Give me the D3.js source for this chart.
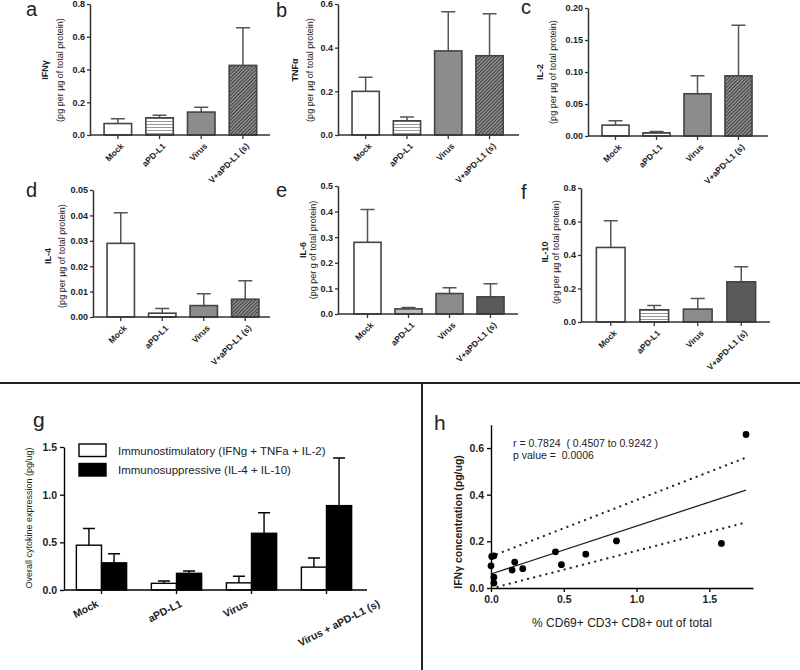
<!DOCTYPE html>
<html>
<head>
	<title></title>
	<script src="https://d3js.org/d3.v7.min.js" charset="utf-8"></script>
	<style type="text/css">
		body { margin: 0; background-color: #fff; }
		svg text { font-family: 'Liberation Sans', Arial, sans-serif; fill: #222; }
		.tick text { font-weight: bold; }
	</style>
</head>
<body>
	<div id="chart"></div>

	<script type="text/javascript">

		// ---- data ----
		var groups = ['Mock', 'aPD-L1', 'Virus', 'V+aPD-L1 (s)'];

		var ifngMean  = [0.07, 0.105, 0.14, 0.425];
		var ifngUpper = [0.10, 0.12, 0.17, 0.655];
		var tnfaMean  = [0.20, 0.065, 0.385, 0.363];
		var tnfaUpper = [0.265, 0.082, 0.565, 0.555];
		var il2Mean   = [0.017, 0.005, 0.066, 0.094];
		var il2Upper  = [0.024, 0.007, 0.094, 0.173];
		var il4Mean   = [0.029, 0.0015, 0.0045, 0.007];
		var il4Upper  = [0.041, 0.0033, 0.0092, 0.0143];
		var il6Mean   = [0.28, 0.02, 0.08, 0.067];
		var il6Upper  = [0.408, 0.025, 0.103, 0.118];
		var il10Mean  = [0.445, 0.073, 0.077, 0.24];
		var il10Upper = [0.605, 0.098, 0.14, 0.33];

		var overallGroups = ['Mock', 'aPD-L1', 'Virus', 'Virus + aPD-L1 (s)'];
		var overallSeries = ['Immunostimulatory (IFNg + TNFa + IL-2)', 'Immunosuppressive (IL-4 + IL-10)'];
		var stimMean  = [0.47, 0.07, 0.075, 0.24];
		var stimUpper = [0.645, 0.095, 0.145, 0.335];
		var suppMean  = [0.285, 0.175, 0.595, 0.885];
		var suppUpper = [0.38, 0.20, 0.81, 1.385];

		var cd69 = [0.0, 0.005, 0.02, 0.02, 0.02, 0.145, 0.163, 0.218, 0.443, 0.484, 0.651, 0.862, 1.583, 1.752];
		var ifngConc = [0.095, 0.135, 0.138, 0.046, 0.021, 0.077, 0.111, 0.083, 0.155, 0.10, 0.145, 0.202, 0.191, 0.658];
		var fitLine  = [[0.0, 0.06], [1.752, 0.42]];
		var ciUpper  = [[0.0, 0.135], [1.752, 0.559]];
		var ciLower  = [[0.045, 0.005], [1.752, 0.281]];

		var svg = d3.select('#chart')
			.append('svg')
			.attr('width', 800)
			.attr('height', 670);

		// ---- patterns ----
		var defs = svg.append('defs');
		var stripes = defs.append('pattern')
			.attr('id', 'stripes')
			.attr('patternUnits', 'userSpaceOnUse')
			.attr('width', 6).attr('height', 3);
		stripes.append('rect').attr('width', 6).attr('height', 3).attr('fill', '#fff');
		stripes.append('line').attr('x1', 0).attr('x2', 6).attr('y1', 1.5).attr('y2', 1.5)
			.attr('stroke', '#999').attr('stroke-width', 1);

		var hatch = defs.append('pattern')
			.attr('id', 'hatch')
			.attr('patternUnits', 'userSpaceOnUse')
			.attr('width', 2.5).attr('height', 2.5)
			.attr('patternTransform', 'rotate(45)');
		hatch.append('rect').attr('width', 2.5).attr('height', 2.5).attr('fill', '#8a8a8a');
		hatch.append('line').attr('x1', 0).attr('x2', 0).attr('y1', 0).attr('y2', 2.5)
			.attr('stroke', '#2a2a2a').attr('stroke-width', 1.4);

		// ---- panels a-f ----
		var panels = [
			{ tag: 'a', name: 'IFN\u03b3', unit: '(pg per \u00b5g of total protein)', mean: ifngMean, upper: ifngUpper,
			  max: 0.8, ticks: [0, 0.2, 0.4, 0.6, 0.8], fmt: '.1f',
			  axX: 90, xEnd: 270, yTop: 4, yBot: 135, start: 97, step: 41.7, nameX: 45, unitX: 60, cy: 70,
			  fills: ['#fff', 'url(#stripes)', '#8c8c8c', 'url(#hatch)'], tagX: 26, tagY: 16 },
			{ tag: 'b', name: 'TNF\u03b1', unit: '(pg per \u00b5g of total protein)', mean: tnfaMean, upper: tnfaUpper,
			  max: 0.6, ticks: [0, 0.2, 0.4, 0.6], fmt: '.1f',
			  axX: 338, xEnd: 519, yTop: 4, yBot: 135, start: 345, step: 41.3, nameX: 295, unitX: 310, cy: 70,
			  fills: ['#fff', 'url(#stripes)', '#8c8c8c', 'url(#hatch)'], tagX: 276, tagY: 17 },
			{ tag: 'c', name: 'IL-2', unit: '(pg per \u00b5g of total protein)', mean: il2Mean, upper: il2Upper,
			  max: 0.2, ticks: [0, 0.05, 0.1, 0.15, 0.2], fmt: '.2f',
			  axX: 588, xEnd: 768, yTop: 8, yBot: 136, start: 595, step: 41, nameX: 540, unitX: 553, cy: 72,
			  fills: ['#fff', 'url(#stripes)', '#8c8c8c', 'url(#hatch)'], tagX: 521, tagY: 14 },
			{ tag: 'd', name: 'IL-4', unit: '(pg per \u00b5g of total protein)', mean: il4Mean, upper: il4Upper,
			  max: 0.05, ticks: [0, 0.01, 0.02, 0.03, 0.04, 0.05], fmt: '.2f',
			  axX: 93, xEnd: 270, yTop: 190, yBot: 317, start: 100, step: 41.5, nameX: 48, unitX: 62, cy: 256,
			  fills: ['#fff', 'url(#stripes)', '#8c8c8c', 'url(#hatch)'], tagX: 26, tagY: 197 },
			{ tag: 'e', name: 'IL-6', unit: '(pg per g of total protein)', mean: il6Mean, upper: il6Upper,
			  max: 0.5, ticks: [0, 0.1, 0.2, 0.3, 0.4, 0.5], fmt: '.1f',
			  axX: 338, xEnd: 518, yTop: 186, yBot: 314, start: 347, step: 41, nameX: 303, unitX: 313, cy: 250,
			  fills: ['#fff', '#bdbdbd', '#8c8c8c', '#5a5a5a'], tagX: 276, tagY: 197 },
			{ tag: 'f', name: 'IL-10', unit: '(pg per \u00b5g of total protein)', mean: il10Mean, upper: il10Upper,
			  max: 0.8, ticks: [0, 0.2, 0.4, 0.6, 0.8], fmt: '.1f',
			  axX: 581, xEnd: 770, yTop: 188, yBot: 322, start: 589, step: 43.5, nameX: 545, unitX: 556, cy: 252,
			  fills: ['#fff', 'url(#stripes)', '#8c8c8c', '#5a5a5a'], tagX: 521, tagY: 199 }
		];

		panels.forEach(function(p) {
			var g = svg.append('g');
			var y = d3.scaleLinear().domain([0, p.max]).range([p.yBot, p.yTop]);
			var x = d3.scaleBand().domain(groups)
				.range([p.start, p.start + 4 * p.step])
				.paddingInner(0.34).paddingOuter(0.17);

			var rows = groups.map(function(d, i) {
				return { cat: d, mean: p.mean[i], upper: p.upper[i], fill: p.fills[i] };
			});

			// error bars (upper only)
			g.selectAll('.err')
			 .data(rows)
			 .enter()
			 .append('path')
			 .attr('d', function(d) {
			 	var cx = x(d.cat) + x.bandwidth() / 2;
			 	return 'M' + cx + ',' + y(d.mean) + 'V' + y(d.upper) +
			 	       'M' + (cx - 7) + ',' + y(d.upper) + 'H' + (cx + 7);
			 })
			 .attr('stroke', '#555')
			 .attr('stroke-width', 1.5)
			 .attr('fill', 'none');

			g.selectAll('.bar')
			 .data(rows)
			 .enter()
			 .append('rect')
			 .attr('x', function(d) { return x(d.cat); })
			 .attr('y', function(d) { return y(d.mean); })
			 .attr('width', x.bandwidth())
			 .attr('height', function(d) { return y(0) - y(d.mean); })
			 .attr('fill', function(d) { return d.fill; })
			 .attr('stroke', '#444')
			 .attr('stroke-width', 1.6);

			// y axis
			var ya = g.append('g')
				.attr('transform', 'translate(' + p.axX + ',0)')
				.call(d3.axisLeft(y).tickValues(p.ticks).tickFormat(d3.format(p.fmt)).tickSize(3).tickSizeOuter(0));
			ya.select('.domain').attr('stroke', '#333').attr('stroke-width', 1.5);
			ya.selectAll('.tick line').attr('stroke', '#333').attr('stroke-width', 1.3);
			ya.selectAll('.tick text').attr('font-size', '9px').attr('x', -5).style('font-family', "'Liberation Sans', Arial, sans-serif");

			// x axis
			g.append('line')
			 .attr('x1', p.axX).attr('x2', p.xEnd)
			 .attr('y1', p.yBot).attr('y2', p.yBot)
			 .attr('stroke', '#333').attr('stroke-width', 1.5);

			g.selectAll('.xt')
			 .data(groups)
			 .enter()
			 .append('line')
			 .attr('x1', function(d) { return x(d) + x.bandwidth() / 2; })
			 .attr('x2', function(d) { return x(d) + x.bandwidth() / 2; })
			 .attr('y1', p.yBot).attr('y2', p.yBot + 4)
			 .attr('stroke', '#333').attr('stroke-width', 1.3);

			g.selectAll('.xl')
			 .data(groups)
			 .enter()
			 .append('text')
			 .text(function(d) { return d; })
			 .attr('transform', function(d) {
			 	return 'translate(' + (x(d) + x.bandwidth() / 2 + 3) + ',' + (p.yBot + 8) + ') rotate(-45)';
			 })
			 .attr('text-anchor', 'end')
			 .attr('dy', '0.6em')
			 .attr('font-size', '8.5px')
			 .attr('font-weight', 'bold');

			// titles
			g.append('text')
			 .text(p.name)
			 .attr('transform', 'translate(' + p.nameX + ',' + p.cy + ') rotate(-90)')
			 .attr('text-anchor', 'middle')
			 .attr('dy', '0.35em')
			 .attr('font-size', '9px')
			 .attr('font-weight', 'bold');

			g.append('text')
			 .text(p.unit)
			 .attr('transform', 'translate(' + p.unitX + ',' + p.cy + ') rotate(-90)')
			 .attr('text-anchor', 'middle')
			 .attr('dy', '0.35em')
			 .attr('font-size', '9px');

			g.append('text')
			 .text(p.tag)
			 .attr('x', p.tagX).attr('y', p.tagY)
			 .attr('font-size', '20px');
		});

		// ---- separators ----
		svg.append('line').attr('x1', 0).attr('x2', 800).attr('y1', 383).attr('y2', 383)
			.attr('stroke', '#222').attr('stroke-width', 2);
		svg.append('line').attr('x1', 422).attr('x2', 422).attr('y1', 383).attr('y2', 670)
			.attr('stroke', '#222').attr('stroke-width', 2);

		// ---- panel g ----
		var gG = svg.append('g');
		var yG = d3.scaleLinear().domain([0, 1.5]).range([590, 447]);
		var x0 = d3.scaleBand().domain(overallGroups).range([64, 364]).paddingInner(0.33).paddingOuter(0.165);
		var x1 = d3.scaleBand().domain(overallSeries).range([0, x0.bandwidth()]);

		var gRows = [];
		overallGroups.forEach(function(c, i) {
			gRows.push({ cat: c, s: overallSeries[0], mean: stimMean[i], upper: stimUpper[i], fill: '#fff' });
			gRows.push({ cat: c, s: overallSeries[1], mean: suppMean[i], upper: suppUpper[i], fill: '#000' });
		});

		gG.selectAll('.err')
		  .data(gRows)
		  .enter()
		  .append('path')
		  .attr('d', function(d) {
		  	var cx = x0(d.cat) + x1(d.s) + x1.bandwidth() / 2;
		  	return 'M' + cx + ',' + yG(d.mean) + 'V' + yG(d.upper) +
		  	       'M' + (cx - 6) + ',' + yG(d.upper) + 'H' + (cx + 6);
		  })
		  .attr('stroke', '#000').attr('stroke-width', 1.4).attr('fill', 'none');

		gG.selectAll('.bar')
		  .data(gRows)
		  .enter()
		  .append('rect')
		  .attr('x', function(d) { return x0(d.cat) + x1(d.s); })
		  .attr('y', function(d) { return yG(d.mean); })
		  .attr('width', x1.bandwidth())
		  .attr('height', function(d) { return yG(0) - yG(d.mean); })
		  .attr('fill', function(d) { return d.fill; })
		  .attr('stroke', '#000').attr('stroke-width', 1.4);

		var yaG = gG.append('g')
			.attr('transform', 'translate(64,0)')
			.call(d3.axisLeft(yG).tickValues([0, 0.5, 1.0, 1.5]).tickFormat(d3.format('.1f')).tickSize(4).tickSizeOuter(0));
		yaG.select('.domain').attr('stroke', '#000').attr('stroke-width', 1.4);
		yaG.selectAll('.tick line').attr('stroke', '#000').attr('stroke-width', 1.3);
		yaG.selectAll('.tick text').attr('font-size', '10.5px').attr('x', -7).style('font-family', "'Liberation Sans', Arial, sans-serif");

		gG.append('line').attr('x1', 64).attr('x2', 367).attr('y1', 590).attr('y2', 590)
		  .attr('stroke', '#000').attr('stroke-width', 1.4);
		gG.selectAll('.xt')
		  .data(overallGroups)
		  .enter()
		  .append('line')
		  .attr('x1', function(d) { return x0(d) + x0.bandwidth() / 2; })
		  .attr('x2', function(d) { return x0(d) + x0.bandwidth() / 2; })
		  .attr('y1', 590).attr('y2', 594)
		  .attr('stroke', '#000').attr('stroke-width', 1.3);

		// labels start under the left edge of each group and rise to the right
		var ang = 27;
		gG.selectAll('.xl')
		  .data(overallGroups)
		  .enter()
		  .append('text')
		  .text(function(d) { return d; })
		  .attr('text-anchor', 'start')
		  .attr('font-size', '10.5px')
		  .attr('font-weight', 'bold')
		  .attr('transform', function(d) {
		  	var len = this.getComputedTextLength();
		  	var sx = x0(d) - 1;
		  	var sy = 606 + len * Math.sin(ang * Math.PI / 180);
		  	return 'translate(' + sx + ',' + sy + ') rotate(' + (-ang) + ')';
		  });

		gG.append('text')
		  .text('Overall cytokine expression (pg/ug)')
		  .attr('transform', 'translate(29,518) rotate(-90)')
		  .attr('text-anchor', 'middle')
		  .attr('dy', '0.35em')
		  .attr('font-size', '9px');

		var leg = gG.selectAll('.leg')
			.data(overallSeries)
			.enter()
			.append('g')
			.attr('transform', function(d, i) { return 'translate(79,' + (444 + i * 19.5) + ')'; });
		leg.append('rect')
		   .attr('width', 27).attr('height', 12.5)
		   .attr('fill', function(d, i) { return i == 0 ? '#fff' : '#000'; })
		   .attr('stroke', '#000').attr('stroke-width', 1.4);
		leg.append('text')
		   .text(function(d) { return d; })
		   .attr('x', 39).attr('y', 10.5)
		   .attr('font-size', '11.5px');

		gG.append('text').text('g').attr('x', 33).attr('y', 427).attr('font-size', '21px');

		// ---- panel h ----
		var gH = svg.append('g');
		var xH = d3.scaleLinear().domain([0, 1.8]).range([491, 753]);
		var yH = d3.scaleLinear().domain([0, 0.7]).range([588, 424.7]);

		var line = d3.line()
			.x(function(d) { return xH(d[0]); })
			.y(function(d) { return yH(d[1]); });

		gH.append('path').attr('d', line(fitLine))
		  .attr('stroke', '#222').attr('stroke-width', 1.3).attr('fill', 'none');
		[ciUpper, ciLower].forEach(function(ci) {
			gH.append('path').attr('d', line(ci))
			  .attr('stroke', '#222').attr('stroke-width', 2.2).attr('fill', 'none')
			  .attr('stroke-linecap', 'round').attr('stroke-dasharray', '0.1,6.2');
		});

		gH.selectAll('circle')
		  .data(cd69)
		  .enter()
		  .append('circle')
		  .attr('cx', function(d) { return xH(d); })
		  .attr('cy', function(d, i) { return yH(ifngConc[i]); })
		  .attr('r', 3.4)
		  .attr('fill', '#000');

		var yaH = gH.append('g')
			.attr('transform', 'translate(491,0)')
			.call(d3.axisLeft(yH).tickValues([0, 0.2, 0.4, 0.6]).tickFormat(d3.format('.1f')).tickSize(4).tickSizeOuter(0));
		var xaH = gH.append('g')
			.attr('transform', 'translate(0,588)')
			.call(d3.axisBottom(xH).tickValues([0, 0.5, 1.0, 1.5]).tickFormat(d3.format('.1f')).tickSize(4).tickSizeOuter(0));
		[yaH, xaH].forEach(function(a) {
			a.select('.domain').attr('stroke', '#000').attr('stroke-width', 1.4);
			a.selectAll('.tick line').attr('stroke', '#000').attr('stroke-width', 1.3);
			a.selectAll('.tick text').attr('font-size', '10.5px').style('font-family', "'Liberation Sans', Arial, sans-serif");
		});
		yaH.selectAll('.tick text').attr('x', -7);
		xaH.selectAll('.tick text').attr('y', 8);

		gH.append('text')
		  .text('IFN\u03b3 concentration (pg/ug)')
		  .attr('transform', 'translate(458,522) rotate(-90)')
		  .attr('text-anchor', 'middle')
		  .attr('dy', '0.35em')
		  .attr('font-size', '10.5px')
		  .attr('font-weight', 'bold');

		gH.append('text')
		  .text('% CD69+ CD3+ CD8+ out of total')
		  .attr('x', 622).attr('y', 627)
		  .attr('text-anchor', 'middle')
		  .attr('font-size', '12px');

		gH.append('text')
		  .text('r = 0.7824  ( 0.4507 to 0.9242 )')
		  .attr('x', 513).attr('y', 447)
		  .attr('font-size', '10.5px')
		  .style('white-space', 'pre');
		gH.append('text')
		  .text('p value =  0.0006')
		  .attr('x', 513).attr('y', 459)
		  .attr('font-size', '10.5px')
		  .style('white-space', 'pre');

		gH.append('text').text('h').attr('x', 434).attr('y', 430).attr('font-size', '21px');

	</script>
</body>
</html>
